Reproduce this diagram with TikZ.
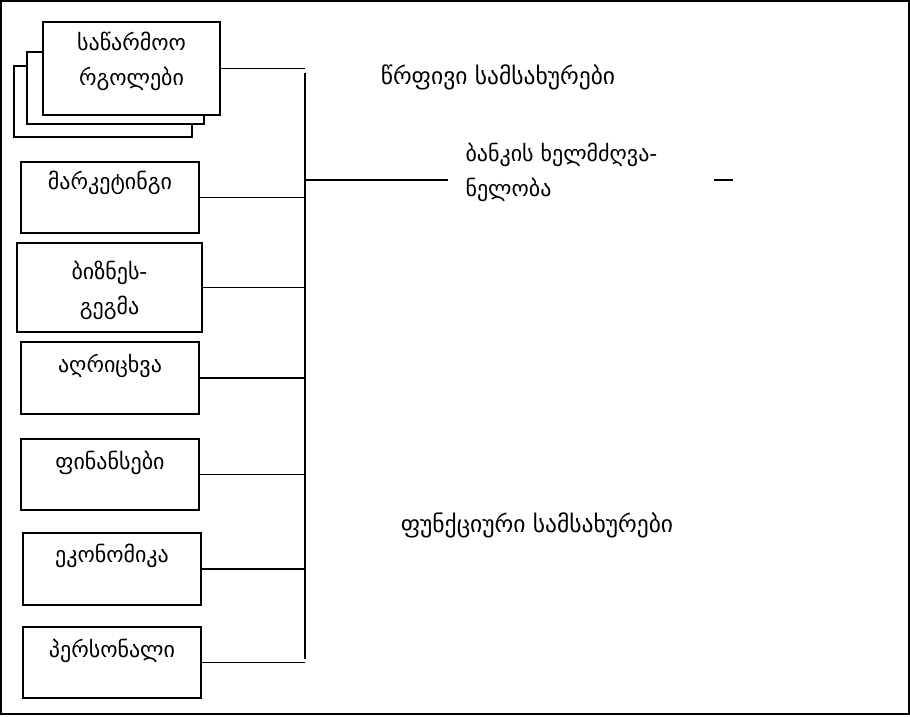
\documentclass[tikz,border=0pt]{standalone}
\usepackage{fontspec}
\setmainfont{DejaVu Sans}
\tikzset{
  unitbox/.style={draw, line width=1.5pt, fill=white, inner sep=0pt},
  unittext/.style={anchor=north, align=center, font=\fontsize{22}{35}\selectfont},
  grouptext/.style={font=\fontsize{23.5}{35}\selectfont},
  wire/.style={line width=1.5pt},
}
\begin{document}
\begin{tikzpicture}[x=1pt, y=-1pt]
\useasboundingbox (0,0) rectangle (910,716);
\draw[line width=2.2pt] (1,1) rectangle (909,714);
% stacked production units
\node[unitbox, minimum width=178pt, minimum height=71pt] (back) at (103,101.5) {};
\node[unitbox, minimum width=177pt, minimum height=72pt] (middle) at (115.5,88) {};
\node[unitbox, minimum width=177pt, minimum height=93pt,
  label={[unittext, yshift=-7pt]north:საწარმოო\\რგოლები}] (prod) at (131.5,68.5) {};
% functional units
\node[unitbox, minimum width=178pt, minimum height=71pt,
  label={[unittext, yshift=-6pt]north:მარკეტინგი}] (mark) at (110,197.5) {};
\node[unitbox, minimum width=185pt, minimum height=89pt,
  label={[unittext, yshift=-15pt]north:ბიზნეს-\\გეგმა}] (plan) at (109.5,287.5) {};
\node[unitbox, minimum width=178pt, minimum height=72pt,
  label={[unittext, yshift=-9pt]north:აღრიცხვა}] (acct) at (110,378) {};
\node[unitbox, minimum width=178pt, minimum height=71pt,
  label={[unittext, yshift=-9pt]north:ფინანსები}] (fin) at (110,474.5) {};
\node[unitbox, minimum width=178pt, minimum height=72pt,
  label={[unittext, yshift=-8pt]north:ეკონომიკა}] (econ) at (112,569) {};
\node[unitbox, minimum width=178pt, minimum height=71pt,
  label={[unittext, yshift=-9pt]north:პერსონალი}] (pers) at (112,662.5) {};
% bus and management
\coordinate (bustop) at (305,73);
\coordinate (busbot) at (305,659);
\coordinate (mgmtin) at (305,180);
\coordinate (mgmtend) at (448,180);
\node[unittext, anchor=north west, align=left] (mgmt) at (462,140) {ბანკის ხელმძღვა-\\ნელობა};
\coordinate (dashl) at (714,180);
\coordinate (dashr) at (733,180);
\draw[wire] (bustop) -- (busbot);
\draw[wire] (prod.east) -- (prod.east -| bustop);
\foreach \u in {mark,plan,acct,fin,econ,pers}
  \draw[wire] (\u.east) -- (\u.east -| bustop);
\draw[wire] (mgmtin) -- (mgmtend);
\draw[wire] (dashl) -- (dashr);
% group titles
\node[grouptext] (linear) at (498,77) {წრფივი სამსახურები};
\node[grouptext] (functional) at (537,525) {ფუნქციური სამსახურები};
\end{tikzpicture}
\end{document}
